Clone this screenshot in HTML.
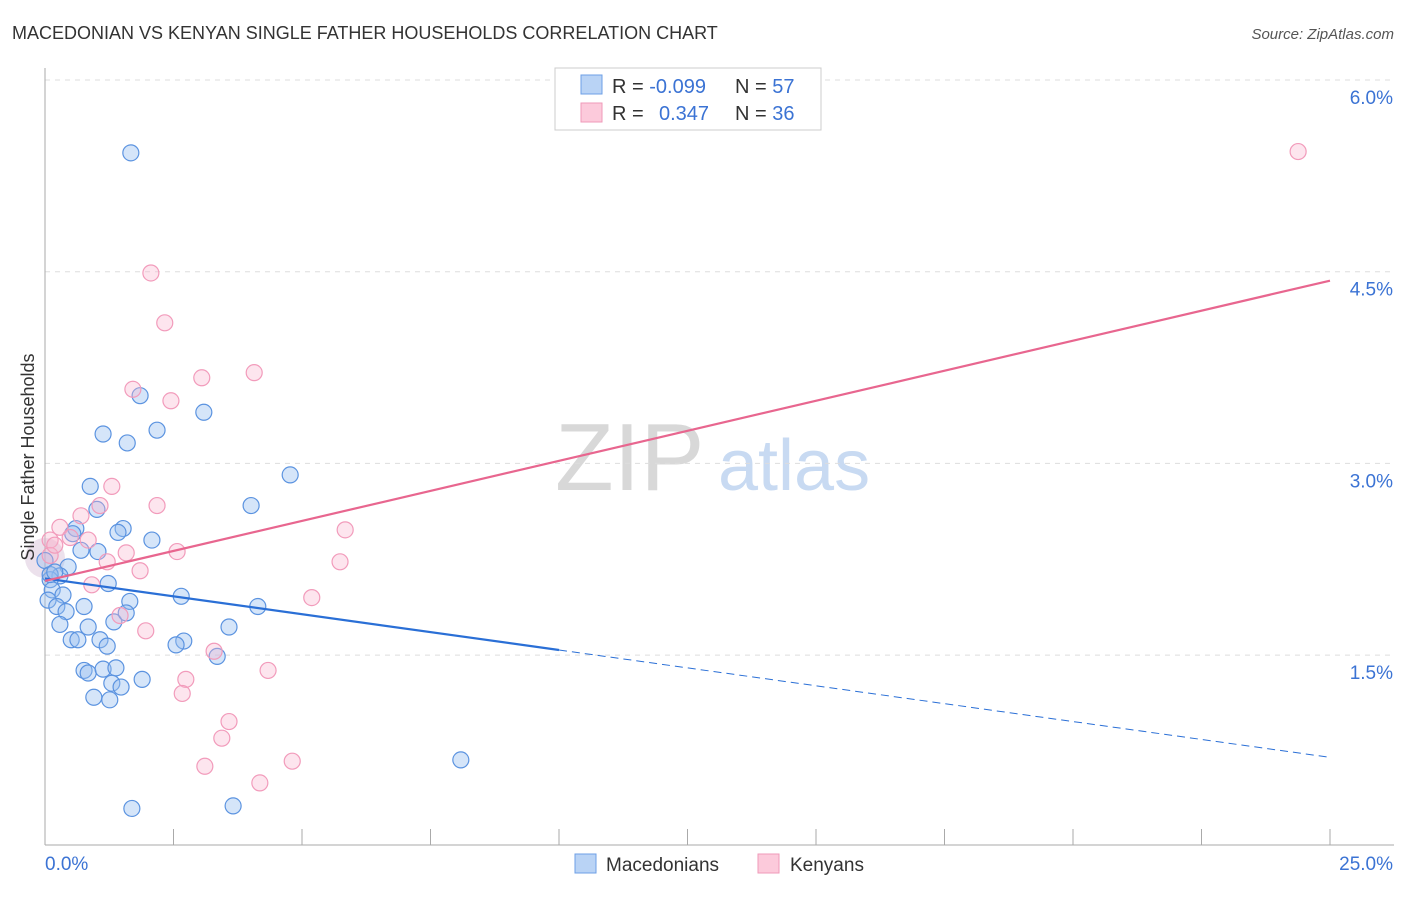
<!DOCTYPE html>
<html><head><meta charset="utf-8"><style>
body{margin:0;background:#fff;font-family:"Liberation Sans",sans-serif}
svg text{font-family:"Liberation Sans",sans-serif}
</style></head><body>
<svg id="chart" width="1406" height="892" xmlns="http://www.w3.org/2000/svg">
<text x="12" y="39" font-size="18" fill="#333">MACEDONIAN VS KENYAN SINGLE FATHER HOUSEHOLDS CORRELATION CHART</text>
<text x="1394" y="39" font-size="15" fill="#555" font-style="italic" text-anchor="end">Source: ZipAtlas.com</text>
<g>
<text x="555" y="490" font-size="96" fill="#d8d8d8" font-family="Liberation Serif,serif">ZIP</text>
<text x="718" y="490" font-size="72" fill="#c8daf2">atlas</text>
</g>
<g id="grid"></g>
<g id="axes"></g>
<g id="marks"></g>
<g>
<rect x="555" y="68" width="266" height="62" fill="#fff" stroke="#ccc"/>
<rect x="581" y="75" width="21" height="19" fill="#b9d3f5" stroke="#6d9fe6"/>
<rect x="581" y="103" width="21" height="19" fill="#fccadb" stroke="#ef9ab8"/>
<text x="612" y="93" font-size="20" fill="#333">R = <tspan fill="#3b73d4">-0.099</tspan></text>
<text x="735" y="93" font-size="20" fill="#333">N = <tspan fill="#3b73d4">57</tspan></text>
<text x="612" y="120" font-size="20" fill="#333">R = </text>
<text x="659" y="120" font-size="20" fill="#3b73d4">0.347</text>
<text x="735" y="120" font-size="20" fill="#333">N = <tspan fill="#3b73d4">36</tspan></text>
</g>
<g>
<rect x="575" y="854" width="21" height="19" fill="#b9d3f5" stroke="#6d9fe6"/>
<text x="606" y="871" font-size="19" fill="#333">Macedonians</text>
<rect x="758" y="854" width="21" height="19" fill="#fccadb" stroke="#ef9ab8"/>
<text x="790" y="871" font-size="19" fill="#333">Kenyans</text>
</g>
<text transform="translate(34,457) rotate(-90)" font-size="18" fill="#333" text-anchor="middle">Single Father Households</text>
</svg>
<script>
const yTicks=[1.5,3.0,4.5,6.0];
const yTickLabels=["1.5%","3.0%","4.5%","6.0%"];
const xEndLabels=["0.0%","25.0%"];
const blueX=[1.67,1.85,3.09,2.18,1.13,1.60,4.77,4.01,0.88,1.01,1.52,1.42,0.60,0.54,2.08,0.70,1.03,1.23,0.45,0.29,0.10,0.14,0.35,0.06,0.23,0.76,0.41,1.65,2.65,4.14,1.34,1.58,0.84,0.29,3.58,0.51,0.64,1.07,1.21,2.70,2.55,3.35,0.76,0.84,1.13,1.38,1.89,1.30,1.48,0.95,1.26,8.09,1.69,3.66,0.0,0.10,0.19];
const blueY=[5.43,3.53,3.40,3.26,3.23,3.16,2.91,2.67,2.82,2.64,2.49,2.46,2.49,2.45,2.40,2.32,2.31,2.06,2.19,2.12,2.09,2.01,1.97,1.93,1.88,1.88,1.84,1.92,1.96,1.88,1.76,1.83,1.72,1.74,1.72,1.62,1.62,1.62,1.57,1.61,1.58,1.49,1.38,1.36,1.39,1.40,1.31,1.28,1.25,1.17,1.15,0.68,0.30,0.32,2.24,2.13,2.15];
const pinkX=[24.38,2.06,2.33,3.05,4.07,1.71,2.45,1.30,2.18,1.07,0.70,0.29,0.49,0.84,0.10,5.84,1.58,2.57,1.21,1.85,5.74,5.19,0.91,1.46,1.96,3.29,4.34,2.74,2.67,3.58,3.44,3.11,4.81,4.18,0.10,0.19];
const pinkY=[5.44,4.49,4.10,3.67,3.71,3.58,3.49,2.82,2.67,2.67,2.59,2.50,2.42,2.40,2.40,2.48,2.30,2.31,2.23,2.16,2.23,1.95,2.05,1.81,1.69,1.53,1.38,1.31,1.20,0.98,0.85,0.63,0.67,0.50,2.28,2.36];
const blueTrend=[2.10,0.70]; // value at x=0 and x=25
const pinkTrend=[2.08,4.43];
const X0=45,X1=1330,Y6=80,PXPER=127.8;
const sx=v=>X0+v*(X1-X0)/25;
const sy=v=>Y6+(6-v)*PXPER;
const NS="http://www.w3.org/2000/svg";
function mk(tag,attrs,parent){const e=document.createElementNS(NS,tag);for(const k in attrs)e.setAttribute(k,attrs[k]);document.getElementById(parent).appendChild(e);return e;}
yTicks.forEach((t,i)=>{
  const g=mk('line',{x1:45,x2:1394,y1:sy(t),y2:sy(t),stroke:'#ddd','stroke-dasharray':'5,5'},'grid');
  
  
  const l=mk('text',{x:1393,y:sy(t)+24,'font-size':19,fill:'#3b73d4','text-anchor':'end'},'axes');
  l.textContent=yTickLabels[i];
  
  
});
const ax=mk('line',{x1:45,x2:45,y1:68,y2:845,stroke:'#aaa'},'axes');


const bx=mk('line',{x1:45,x2:1394,y1:845,y2:845,stroke:'#aaa'},'axes');


for(let i=0;i<=10;i++){
  const t=mk('line',{x1:sx(i*2.5),x2:sx(i*2.5),y1:829,y2:845,stroke:'#aaa'},'axes');
  
  
}
const xl0=mk('text',{x:45,y:870,'font-size':19,fill:'#3b73d4'},'axes');xl0.textContent=xEndLabels[0];


const xl1=mk('text',{x:1393,y:870,'font-size':19,fill:'#3b73d4','text-anchor':'end'},'axes');xl1.textContent=xEndLabels[1];


const big=mk('circle',{cx:sx(0),cy:sy(2.26),r:20,fill:'rgba(200,170,200,0.35)'},'marks');


blueX.forEach((v,i)=>{
  const c=mk('circle',{cx:sx(v),cy:sy(blueY[i]),r:8,fill:'rgba(150,190,240,0.4)',stroke:'#5b93e0','stroke-width':1.2},'marks');
  
  
});
pinkX.forEach((v,i)=>{
  const c=mk('circle',{cx:sx(v),cy:sy(pinkY[i]),r:8,fill:'rgba(250,180,205,0.35)',stroke:'#f29bbb','stroke-width':1.2},'marks');
  
  
});
const bAt=x=>blueTrend[0]+(blueTrend[1]-blueTrend[0])*x/25;
const xs=10;
const bl=mk('line',{x1:sx(0),y1:sy(bAt(0)),x2:sx(xs),y2:sy(bAt(xs)),stroke:'#2a6fd6','stroke-width':2.2},'marks');


const bd=mk('line',{x1:sx(xs),y1:sy(bAt(xs)),x2:sx(25),y2:sy(bAt(25)),stroke:'#2a6fd6','stroke-width':1,'stroke-dasharray':'8,5'},'marks');


const pl=mk('line',{x1:sx(0),y1:sy(pinkTrend[0]),x2:sx(25),y2:sy(pinkTrend[1]),stroke:'#e8668f','stroke-width':2.2},'marks');


</script>
</body></html>
